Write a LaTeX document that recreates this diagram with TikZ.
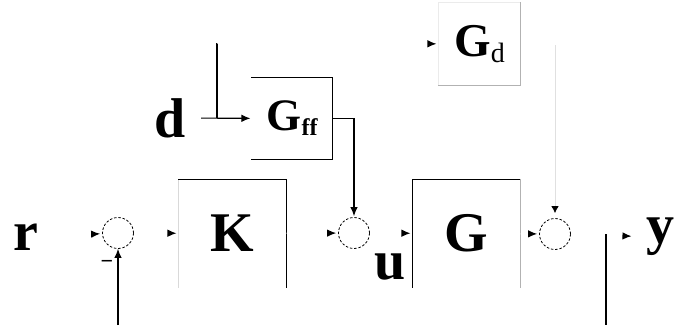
\documentclass[tikz,border=0pt]{standalone}
\usepackage{fontspec}
\setmainfont{Liberation Serif}
\usetikzlibrary{arrows.meta}
\begin{document}
\begin{tikzpicture}[x=1pt,y=-1pt,line width=1.1pt,inner sep=2pt,
  font=\bfseries\fontsize{56pt}{60pt}\selectfont,
  blk/.style={minimum width=107pt,minimum height=107pt,inner sep=0pt},
  sum/.style={circle,draw,dash pattern=on 2.5pt off 1.8pt,line width=.8pt,minimum size=31pt,inner sep=0pt},
  arr/.style={-{Latex[length=9pt,width=7.5pt]}},
  ghost/.style={draw=white,-{Latex[black,length=9pt,width=7.5pt]},shorten >=2pt},
  faint/.style={draw=black!12,line width=.8pt}]
\useasboundingbox (0,0) rectangle (679,325);
% main loop
\node (r) at (26,237) {r};
\node[sum] (s1) at (118,233) {};
\node[blk] (k) at (232.5,233.5) {K};
\node[sum] (s2) at (354,233) {};
\node (u) at (390,267) {u};
\node[blk] (g) at (466.5,233.5) {G};
\node[sum] (s3) at (555,234) {};
\node (y) at (660,237) {y};
\node[font=\bfseries\fontsize{22pt}{22pt}\selectfont] (m) at (107,264) {−};
% disturbance part
\node (d) at (170,118) {d};
\node[blk,minimum width=80pt,minimum height=81pt,font=\bfseries\fontsize{45pt}{48pt}\selectfont] (gff) at (292,118.5)
  {G\raisebox{-5pt}{\fontsize{24pt}{24pt}\selectfont ff}};
\node[blk,minimum width=81pt,minimum height=82pt,font=\bfseries\fontsize{47pt}{50pt}\selectfont] (gd) at (479.5,44)
  {G\raisebox{-6pt}{\mdseries\fontsize{28pt}{28pt}\selectfont d}};
\coordinate (dtop) at (217,43);
\coordinate (gdout) at (555,45);
\coordinate (fb) at (606,234);
\coordinate (fbend) at (606,325);
% block edges
\draw[black!15] (k.south west) -- (k.north west);
\draw (k.north west) -- (k.north east) -- (k.south east);
\draw (g.south west) -- (g.north west) -- (g.north east);
\draw[black!30] (g.north east) -- (g.south east);
\draw (gff.north west) -- (gff.north east) -- (gff.south east) -- (gff.south west);
\draw[black!8] (gd.south west) -- (gd.north west) -- (gd.north east);
\draw[black!30] (gd.north east) -- (gd.south east) -- (gd.south west);
% connectors
\draw[arr,shorten <=13pt,shorten >=1pt] (d) -- (gff);
\draw (dtop) -- (dtop |- d);
\draw[ghost] (dtop) -- (gd);
\draw[arr,shorten >=1pt] (gff.east) -| (s2.north);
\draw[ghost] (r) -- (s1);
\draw[ghost] (s1) -- (k);
\draw[ghost] (k) -- (s2);
\draw[ghost] (s2) -- (g);
\draw[ghost] (g) -- (s3);
\draw[ghost,shorten >=12pt] (s3) -- (y);
\draw[faint,-{Latex[black,length=7pt,width=7.5pt]},shorten >=5pt] (gdout) -- (s3.north);
\draw (fb) -- (fbend);
\draw[arr] (s1 |- fbend) -- (s1.south);
\end{tikzpicture}
\end{document}
